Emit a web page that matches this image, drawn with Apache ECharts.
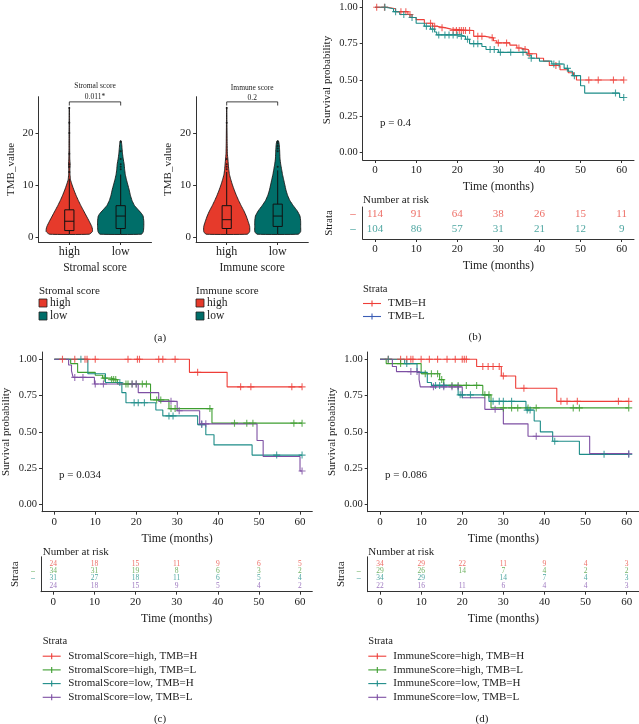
<!DOCTYPE html>
<html><head><meta charset="utf-8">
<script src="https://cdn.jsdelivr.net/npm/echarts@6/dist/echarts.min.js"></script>
<style>html,body{margin:0;padding:0;background:#fff}#c{width:639px;height:724px}</style>
</head><body><div id="c"></div>
<script>
// ---------------- DATA ----------------
// (a) violin plots
const violinCats = ['high', 'low'];
const violinTicks = [0, 10, 20];
const violinColors = ['#E63A2B', '#006E69'];
// density profiles: [TMB value, relative half-width]
const stromalHighProfile = [[0.5,0.86],[1,1],[1.5,1],[2,0.97],[3,0.86],[4,0.74],[5,0.62],[6,0.5],[7,0.39],[8,0.29],[9,0.2],[10,0.12],[11,0.05],[12,0.03],[13,0.025],[14,0.035],[15,0.02],[17,0.015],[20,0.013],[23,0.01],[25,0.006]];
const stromalLowProfile = [[0.5,0.9],[1,0.98],[2,1],[3,1],[4,0.97],[4.5,0.9],[5,0.8],[5.5,0.7],[6,0.6],[7,0.49],[8,0.42],[9,0.37],[10,0.31],[11,0.25],[12,0.2],[13,0.17],[14,0.15],[15,0.11],[16,0.08],[17,0.06],[18,0.04],[18.5,0.02]];
const immuneHighProfile = [[0.5,0.9],[1,1],[2,1],[3,0.93],[4,0.85],[5,0.75],[6,0.63],[7,0.52],[8,0.42],[9,0.33],[10,0.25],[11,0.18],[12,0.12],[13,0.09],[14,0.07],[15,0.05],[16,0.03],[18,0.02],[20,0.015],[22,0.01],[25,0.006]];
const immuneLowProfile = [[0.5,0.9],[1,1],[2,1],[3,1],[4,0.97],[5,0.85],[6,0.68],[7,0.53],[8,0.43],[9,0.36],[10,0.31],[11,0.26],[12,0.21],[13,0.17],[14,0.13],[15,0.1],[16,0.09],[17,0.08],[18,0.06],[18.5,0.03]];
// box stats: [lower whisker, Q1, median, Q3, upper whisker]
const stromalHighBox = [0.5, 1.2, 3.0, 5.2, 11.2];
const stromalLowBox = [0.5, 1.6, 4.0, 6.0, 12.0];
const immuneHighBox = [0.5, 1.6, 3.3, 6.0, 12.5];
const immuneLowBox = [0.5, 2.0, 4.0, 6.3, 12.8];
const stromalHighOut = [12.5, 13.5, 14, 16, 20, 22, 24.8];
const stromalLowOut = [13, 13.5, 14, 15, 16.5, 18.3];
const immuneHighOut = [13, 13.5, 14, 15, 22, 24.8];
const immuneLowOut = [13.5, 16.5, 17, 17.5, 18, 18.3];
const stromalTest = ['Stromal score', '0.011*'];
const immuneTest = ['Immune score', '0.2'];
const bracket = [[1, 25.3], [1, 26], [2, 26], [2, 25.3]];

// KM common
const timeTicks = [0, 10, 20, 30, 40, 50, 60];
const survTicks = [0, 0.25, 0.5, 0.75, 1];

// (b) TMB
const bNames = ['TMB=H', 'TMB=L'];
const bH_time = [0, 3, 5, 8, 9, 10, 12, 14, 15, 17, 18.5, 24, 26.8, 28.8, 29.6, 32.8, 34.5, 35.3, 37.3, 39.3, 41, 42.4, 45, 47, 48.3, 49, 60.5];
const bH_surv = [1, 0.99, 0.97, 0.95, 0.93, 0.915, 0.89, 0.87, 0.86, 0.85, 0.84, 0.80, 0.79, 0.77, 0.755, 0.74, 0.72, 0.71, 0.68, 0.65, 0.63, 0.60, 0.57, 0.55, 0.53, 0.50, 0.50];
const bH_cens = [0.4, 2.3, 6.3, 7.5, 8.5, 13.5, 14.5, 16.3, 19, 19.8, 20.5, 21, 21.5, 22, 23, 25, 26, 28.5, 30, 32, 35, 36.5, 37.5, 44, 52, 54.3, 58, 60.5];
const bL_time = [0, 2.5, 4.5, 6, 8.5, 10, 12, 13.5, 14.5, 15, 21, 22, 23, 26, 27, 30, 37, 38, 40, 43, 46, 47, 48, 50, 51, 59.5, 60.5];
const bL_surv = [1, 0.99, 0.97, 0.95, 0.93, 0.89, 0.87, 0.85, 0.83, 0.81, 0.80, 0.78, 0.75, 0.73, 0.71, 0.69, 0.67, 0.65, 0.63, 0.61, 0.58, 0.56, 0.53, 0.46, 0.41, 0.38, 0.38];
const bL_cens = [2.4, 5, 7, 9, 12.5, 14, 15.5, 17, 18, 19, 20, 21, 22.5, 24, 25, 28, 29, 30.5, 33, 36, 38, 43.5, 44.8, 46.8, 48.5, 58.5, 60.5];
const bRisk = [[114, 91, 64, 38, 26, 15, 11], [104, 86, 57, 31, 21, 12, 9]];
const bP = 'p = 0.4';

// (c) Stromal score x TMB
const cNames = ['StromalScore=high, TMB=H', 'StromalScore=high, TMB=L', 'StromalScore=low, TMB=H', 'StromalScore=low, TMB=L'];
const c1_time = [0, 33, 42.2, 60.5];
const c1_surv = [1, 0.91, 0.81, 0.81];
const c1_cens = [2, 5, 7.5, 8, 10, 18, 20.3, 20.8, 25.5, 26.5, 29.5, 35, 45.5, 48, 58, 60.5];
const c2_time = [0, 4, 5.7, 10, 11.8, 13.8, 15.4, 23.5, 28, 38.5, 60.5];
const c2_surv = [1, 0.97, 0.91, 0.89, 0.87, 0.86, 0.83, 0.72, 0.66, 0.56, 0.56];
const c2_cens = [12.2, 14, 14.5, 15, 17.5, 18, 19, 20, 21.5, 22.5, 25, 26, 28.5, 29.5, 38, 44, 47, 48.5, 58.5, 60.5];
const c3_time = [0, 8.2, 12.5, 16.5, 17.5, 24.8, 26.5, 35, 37, 39, 48.3, 60.5];
const c3_surv = [1, 0.90, 0.84, 0.77, 0.70, 0.65, 0.61, 0.55, 0.48, 0.41, 0.34, 0.34];
const c3_cens = [6.5, 16, 19.5, 20.5, 22, 28, 29, 36, 54.3, 60.5];
const c4_time = [0, 3.5, 4.2, 4.6, 9.8, 20.5, 25.5, 30, 35.5, 49.5, 51, 60, 60.5];
const c4_surv = [1, 0.96, 0.92, 0.875, 0.83, 0.77, 0.71, 0.645, 0.555, 0.44, 0.33, 0.23, 0.23];
const c4_cens = [5, 7, 10, 12, 19, 20, 28.5, 30.5, 36, 37, 60.5];
const cRisk = [[24, 18, 15, 11, 9, 6, 5], [34, 31, 19, 8, 6, 3, 2], [31, 27, 18, 11, 6, 5, 4], [24, 18, 15, 9, 5, 4, 2]];
const cP = 'p = 0.034';

// (d) Immune score x TMB
const dNames = ['ImmuneScore=high, TMB=H', 'ImmuneScore=high, TMB=L', 'ImmuneScore=low, TMB=H', 'ImmuneScore=low, TMB=L'];
const d1_time = [0, 23.5, 29.5, 33, 43, 60.5];
const d1_surv = [1, 0.95, 0.885, 0.80, 0.71, 0.71];
const d1_cens = [2, 5, 6.5, 7.5, 8, 10, 12, 14, 16.3, 18.3, 20, 20.5, 21, 25, 26.3, 27.5, 29, 30, 35, 44, 45.5, 48, 58, 60.5];
const d2_time = [0, 1.5, 10, 14.5, 15.5, 25, 27, 60.5];
const d2_surv = [1, 0.97, 0.90, 0.86, 0.82, 0.755, 0.665, 0.665];
const d2_cens = [5, 11, 12.5, 14, 15, 17.5, 19, 21, 23.5, 25.5, 26.5, 30, 32, 33.5, 36, 38, 47, 48.5, 60.5];
const d3_time = [0, 6, 9, 11.5, 12.5, 19, 26.5, 35.5, 37.5, 39, 42, 48.5, 60.5];
const d3_surv = [1, 0.97, 0.91, 0.84, 0.82, 0.755, 0.71, 0.65, 0.575, 0.50, 0.435, 0.345, 0.345];
const d3_cens = [2, 6.5, 13.5, 14.5, 15.5, 19.5, 20, 22, 27.5, 29, 30, 32, 35.8, 36.5, 42.5, 54.5, 60.5];
const d4_time = [0, 3, 4, 9.5, 9.8, 20, 25.5, 30, 36, 51, 60.5];
const d4_surv = [1, 0.95, 0.915, 0.86, 0.81, 0.735, 0.655, 0.555, 0.47, 0.35, 0.35];
const d4_cens = [7.5, 9, 13, 15.5, 17.5, 19, 28, 38, 60.5];
const dRisk = [[34, 29, 22, 11, 9, 4, 3], [29, 26, 14, 7, 4, 2, 2], [34, 29, null, 14, 7, 4, 3], [22, 16, 11, 6, 4, 4, 3]];
const dP = 'p = 0.086';

// colours
const RED = '#EE3E38', GREEN = '#3E9E30', TEAL = '#1D8C88', PURPLE = '#7D4FA3', BLUE = '#3A5DB5';
const TXT_RED = '#E8483E', TXT_GREEN = '#4A9E3A', TXT_TEAL = '#22908A', TXT_PURPLE = '#8658B0';

// ---------------- BUILD ----------------
const F = 'Liberation Serif';
const AX = '#333';
const TC = '#222';
const PLUS = 'path://M4.2,0H5.8V4.2H10V5.8H5.8V10H4.2V5.8H0V4.2H4.2Z';

const grids = [], xAxes = [], yAxes = [], series = [], graphics = [];

function txt(x, y, s, size, opt) {
  opt = opt || {};
  graphics.push({type: 'text', x: x, y: y, silent: true, style: {
    text: s, font: (size) + 'px "' + F + '"', fill: opt.fill || TC,
    textAlign: opt.align || 'left', align: opt.align || 'left',
    textVerticalAlign: 'middle', verticalAlign: 'middle'}});
}

// ---- violin panels ----
function violinPanel(left, width, profiles, boxes, outs, test, axisName) {
  const gi = grids.length;
  grids.push({left: left, top: 96.7, width: width, height: 145.3});
  xAxes.push({gridIndex: gi, type: 'value', min: 0.4, max: 2.6,
    axisLine: {onZero: false, lineStyle: {color: AX, width: 1}},
    axisTick: {customValues: [1, 2], length: 3, lineStyle: {color: AX}},
    axisLabel: {customValues: [1, 2], formatter: v => violinCats[Math.round(v) - 1], color: TC, fontFamily: F, fontSize: 12, margin: 4},
    splitLine: {show: false},
    name: axisName, nameLocation: 'middle', nameGap: 20, nameTextStyle: {fontFamily: F, fontSize: 11.5, color: TC}});
  yAxes.push({gridIndex: gi, type: 'value', min: -1, max: 27,
    axisLine: {show: true, onZero: false, lineStyle: {color: AX, width: 1}},
    axisTick: {show: true, customValues: violinTicks, length: 3, lineStyle: {color: AX}},
    axisLabel: {customValues: violinTicks, color: TC, fontFamily: F, fontSize: 11, margin: 5},
    splitLine: {show: false},
    name: 'TMB_value', nameLocation: 'middle', nameGap: 22, nameTextStyle: {fontFamily: F, fontSize: 11, color: TC}});
  series.push({type: 'custom', xAxisIndex: gi, yAxisIndex: gi, silent: true, z: 2,
    data: profiles.map((p, i) => [i + 1, 12]),
    renderItem: (params, api) => {
      const i = params.dataIndex, prof = profiles[i], cx = i + 1;
      const l = prof.map(([y, w]) => api.coord([cx - w * 0.45, y]));
      const r = prof.slice().reverse().map(([y, w]) => api.coord([cx + w * 0.45, y]));
      return {type: 'polygon', shape: {points: l.concat(r), smooth: 0.15}, style: {fill: violinColors[i], stroke: '#1a1a1a', lineWidth: 0.9}};
    }});
  series.push({type: 'custom', xAxisIndex: gi, yAxisIndex: gi, silent: true, z: 3,
    data: boxes.map((b, i) => [i + 1].concat(b)),
    renderItem: (params, api) => {
      const cx = api.value(0), lo = api.value(1), q1 = api.value(2), med = api.value(3), q3 = api.value(4), hi = api.value(5);
      const hw = 0.09, p = (x, y) => api.coord([x, y]);
      const st = {stroke: '#111', lineWidth: 1, fill: 'none'};
      const ln = (a, b) => ({type: 'line', shape: {x1: a[0], y1: a[1], x2: b[0], y2: b[1]}, style: st});
      const a = p(cx - hw, q3), b = p(cx + hw, q1);
      return {type: 'group', children: [
        ln(p(cx, lo), p(cx, q1)), ln(p(cx, q3), p(cx, hi)),
        {type: 'rect', shape: {x: a[0], y: a[1], width: b[0] - a[0], height: b[1] - a[1]}, style: st},
        ln(p(cx - hw, med), p(cx + hw, med))]};
    }});
  series.push({type: 'scatter', xAxisIndex: gi, yAxisIndex: gi, silent: true, z: 4, symbolSize: 2,
    itemStyle: {color: '#111'}, data: outs.flatMap((o, i) => o.map(v => [i + 1, v]))});
  series.push({type: 'line', xAxisIndex: gi, yAxisIndex: gi, silent: true, z: 4, symbol: 'none',
    lineStyle: {color: '#111', width: 0.8}, data: bracket});
  return gi;
}
violinPanel(38.5, 113, [stromalHighProfile, stromalLowProfile], [stromalHighBox, stromalLowBox], [stromalHighOut, stromalLowOut], stromalTest, 'Stromal score');
violinPanel(196.1, 112.2, [immuneHighProfile, immuneLowProfile], [immuneHighBox, immuneLowBox], [immuneHighOut, immuneLowOut], immuneTest, 'Immune score');
txt(95, 86, stromalTest[0], 7.5, {align: 'center'});
txt(95, 97, stromalTest[1], 7.5, {align: 'center'});
txt(252.2, 88, immuneTest[0], 7.5, {align: 'center'});
txt(252.2, 98, immuneTest[1], 7.5, {align: 'center'});
function violinLegend(x, title) {
  txt(x, 291, title, 11);
  ['high', 'low'].forEach((n, i) => {
    const y = 303 + i * 13;
    graphics.push({type: 'rect', silent: true, shape: {x: x, y: y - 4, width: 8, height: 8}, style: {fill: violinColors[i], stroke: '#222', lineWidth: 0.8}});
    txt(x + 11, y, n, 11.5);
  });
}
violinLegend(39, 'Stromal score');
violinLegend(196, 'Immune score');
txt(160, 338, '(a)', 11, {align: 'center'});

// ---- KM panels ----
function kmPanel(left, top, height, curves, colors, pText, pX, pY) {
  const gi = grids.length;
  grids.push({left: left, top: top, width: 271.3, height: height});
  xAxes.push({gridIndex: gi, type: 'value', min: -3, max: 63,
    axisLine: {onZero: false, lineStyle: {color: AX, width: 1}},
    axisTick: {customValues: timeTicks, length: 3, lineStyle: {color: AX}},
    axisLabel: {customValues: timeTicks, color: TC, fontFamily: F, fontSize: 11, margin: 5},
    splitLine: {show: false},
    name: 'Time (months)', nameLocation: 'middle', nameGap: 21, nameTextStyle: {fontFamily: F, fontSize: 12, color: TC}});
  yAxes.push({gridIndex: gi, type: 'value', min: -0.05, max: 1.05,
    axisLine: {show: true, onZero: false, lineStyle: {color: AX, width: 1}},
    axisTick: {show: true, customValues: survTicks, length: 3, lineStyle: {color: AX}},
    axisLabel: {customValues: survTicks, formatter: v => v.toFixed(2), color: TC, fontFamily: F, fontSize: 10.5, margin: 5},
    splitLine: {show: false},
    name: 'Survival probability', nameLocation: 'middle', nameGap: 30, nameTextStyle: {fontFamily: F, fontSize: 11, color: TC}});
  curves.forEach(([times, surv, cens], k) => {
    const color = colors[k];
    const sAt = t => { let s = surv[0]; for (let i = 0; i < times.length; i++) if (times[i] <= t) s = surv[i]; return s; };
    series.push({type: 'line', xAxisIndex: gi, yAxisIndex: gi, step: 'end', symbol: 'none', silent: true, z: 3,
      lineStyle: {color: color, width: 1.1}, itemStyle: {color: color}, data: times.map((t, i) => [t, surv[i]])});
    series.push({type: 'scatter', xAxisIndex: gi, yAxisIndex: gi, symbol: PLUS, symbolSize: 7, silent: true, z: 4,
      itemStyle: {color: color}, data: cens.map(t => [t, sAt(t)])});
  });
  txt(pX, pY, pText, 11);
}
function riskPanel(left, top, height, rowMin, rowMax, risk, colors, fontSize, dashSize, strataGap, dashMargin) {
  const gi = grids.length;
  grids.push({left: left, top: top, width: 271.3, height: height});
  const rows = risk.map((r, i) => i + 1);
  xAxes.push({gridIndex: gi, type: 'value', min: -3, max: 63,
    axisLine: {onZero: false, lineStyle: {color: AX, width: 1}},
    axisTick: {customValues: timeTicks, length: 3, lineStyle: {color: AX}},
    axisLabel: {customValues: timeTicks, color: TC, fontFamily: F, fontSize: 11, margin: 5},
    splitLine: {show: false},
    name: 'Time (months)', nameLocation: 'middle', nameGap: 21, nameTextStyle: {fontFamily: F, fontSize: 12, color: TC}});
  const rich = {};
  colors.forEach((c, i) => { rich['r' + (i + 1)] = {color: c, fontSize: dashSize, fontFamily: F}; });
  yAxes.push({gridIndex: gi, type: 'value', min: rowMin, max: rowMax, inverse: true,
    axisLine: {show: true, onZero: false, lineStyle: {color: AX, width: 1}},
    axisTick: {show: false},
    axisLabel: {customValues: rows, formatter: v => '{r' + Math.round(v) + '|–}', rich: rich, margin: dashMargin},
    splitLine: {show: false},
    name: 'Strata', nameLocation: 'middle', nameGap: strataGap, nameTextStyle: {fontFamily: F, fontSize: 11, color: TC}});
  risk.forEach((row, i) => {
    const data = [];
    row.forEach((v, j) => { if (v !== null) data.push([timeTicks[j], i + 1, v]); });
    series.push({type: 'scatter', xAxisIndex: gi, yAxisIndex: gi, silent: true, symbolSize: 1, z: 5,
      itemStyle: {color: 'rgba(0,0,0,0)'},
      label: {show: true, position: 'inside', formatter: p => String(p.value[2]), color: colors[i], fontFamily: F, fontSize: fontSize},
      data: data});
  });
}
function kmLegend(x, y0, gap, textX, names, colors) {
  txt(x, y0, 'Strata', 10.5);
  names.forEach((n, i) => {
    const y = y0 + 14.5 + i * gap;
    graphics.push({type: 'line', silent: true, shape: {x1: x, y1: y, x2: x + 18, y2: y}, style: {stroke: colors[i], lineWidth: 1.1}});
    graphics.push({type: 'line', silent: true, shape: {x1: x + 9, y1: y - 3, x2: x + 9, y2: y + 3}, style: {stroke: colors[i], lineWidth: 1.1}});
    txt(textX, y, n, 11);
  });
}

// (b)
kmPanel(362.7, 0, 160, [[bH_time, bH_surv, bH_cens], [bL_time, bL_surv, bL_cens]], [RED, TEAL], bP, 380, 123);
txt(363, 200, 'Number at risk', 11);
riskPanel(362.7, 207, 32, 0.533, 2.667, bRisk, [TXT_RED, TXT_TEAL], 11, 11, 28, 7);
kmLegend(363, 289, 13, 388, bNames, [RED, BLUE]);
txt(475, 337, '(b)', 11, {align: 'center'});

// (c)
kmPanel(41, 352, 159.7, [[c1_time, c1_surv, c1_cens], [c2_time, c2_surv, c2_cens], [c3_time, c3_surv, c3_cens], [c4_time, c4_surv, c4_cens]], [RED, GREEN, TEAL, PURPLE], cP, 59, 475);
txt(42.7, 551.7, 'Number at risk', 11);
riskPanel(41, 556.8, 34.9, 0.03, 4.83, cRisk, [TXT_RED, TXT_GREEN, TXT_TEAL, TXT_PURPLE], 7.5, 8, 20, 6);
kmLegend(42.7, 641.7, 13.7, 68.3, cNames, [RED, GREEN, TEAL, PURPLE]);
txt(160, 719, '(c)', 11, {align: 'center'});

// (d)
kmPanel(367.7, 352, 159.7, [[d1_time, d1_surv, d1_cens], [d2_time, d2_surv, d2_cens], [d3_time, d3_surv, d3_cens], [d4_time, d4_surv, d4_cens]], [RED, GREEN, TEAL, PURPLE], dP, 385, 475);
txt(368.3, 551.7, 'Number at risk', 11);
riskPanel(367.7, 556.8, 34.9, 0.03, 4.83, dRisk, [TXT_RED, TXT_GREEN, TXT_TEAL, TXT_PURPLE], 7.5, 8, 21, 7);
kmLegend(368.3, 641.7, 13.7, 393.3, dNames, [RED, GREEN, TEAL, PURPLE]);
txt(482, 719, '(d)', 11, {align: 'center'});

const chart = echarts.init(document.getElementById('c'), null, {renderer: 'canvas'});
chart.setOption({
  animation: false,
  backgroundColor: '#fff',
  textStyle: {fontFamily: F},
  grid: grids, xAxis: xAxes, yAxis: yAxes, series: series, graphic: graphics
});
</script></body></html>
